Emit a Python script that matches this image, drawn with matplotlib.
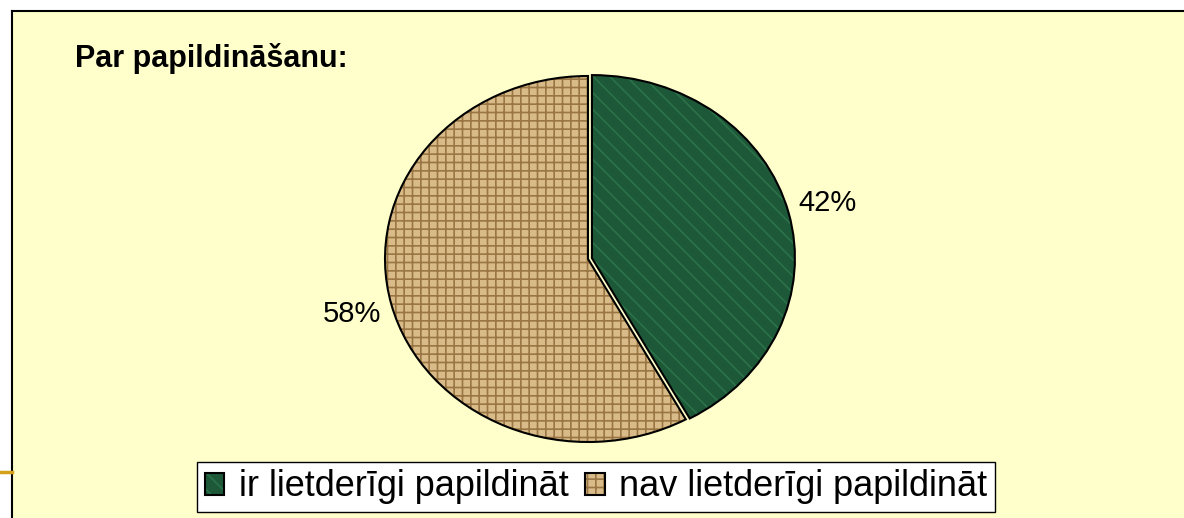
"""Pie: Par papildināšanu (ir / nav lietderīgi papildināt)."""

import matplotlib
matplotlib.use("Agg")
import matplotlib.pyplot as plt
from matplotlib.patches import Wedge, Rectangle
from matplotlib.lines import Line2D

plt.rcParams["font.family"] = ["Liberation Sans", "DejaVu Sans"]
plt.rcParams["hatch.linewidth"] = 1.2

# data
categories = ["ir lietderīgi papildināt", "nav lietderīgi papildināt"]
shares = [42, 58]
title = "Par papildināšanu:"

# styling
face_colors = ["#1D5838", "#D8BB88"]
hatch_colors = ["#2C7249", "#9A7644"]
hatches = ["\\\\", "++"]
BG = "#FFFFCC"

W, H = 1184, 518
fig = plt.figure(figsize=(W / 100, H / 100), dpi=100, facecolor="white")

# slide panel + frame
fig.add_artist(Rectangle((12 / W, 0), 1 - 12 / W, 1 - 11 / H, transform=fig.transFigure,
                         facecolor=BG, edgecolor="none", zorder=0))
fig.add_artist(Line2D([12 / W, 1], [1 - 11 / H, 1 - 11 / H], transform=fig.transFigure,
                      color="black", lw=1.5))
fig.add_artist(Line2D([12 / W, 12 / W], [0, 1 - 11 / H], transform=fig.transFigure,
                      color="black", lw=1.5))
fig.add_artist(Line2D([0, 12 / W], [1 - 472 / H, 1 - 472 / H], transform=fig.transFigure,
                      color="#D4A017", lw=2.5))

fig.text(75 / W, 1 - 59 / H, title, fontsize=22, fontweight="bold", va="center", ha="left")

# pie axes sized to the (horizontally stretched) pie
cx, cy, rx, ry = 588, 259, 203, 183
ax = fig.add_axes([(cx - rx) / W, (H - cy - ry) / H, 2 * rx / W, 2 * ry / H])
ax.set_facecolor("none")

wedges, texts, autotexts = ax.pie(
    shares,
    colors=face_colors,
    startangle=90,
    counterclock=False,
    explode=[0.02, 0],
    autopct="%.0f%%",
    pctdistance=1.2,
    wedgeprops=dict(edgecolor="black", linewidth=1.5, zorder=3),
    textprops=dict(fontsize=21, color="black"),
)
ax.set_aspect("auto")
ax.set_xlim(-1, 1)
ax.set_ylim(-1, 1)
ax.axis("off")

fills = []
for w, fc, hc, ht in zip(wedges, face_colors, hatch_colors, hatches):
    f = Wedge(w.center, w.r, w.theta1, w.theta2, facecolor=fc, edgecolor=hc,
              hatch=ht, linewidth=0, zorder=2)
    ax.add_patch(f)
    f.set_clip_on(False)
    w.set_clip_on(False)
    w.set_facecolor("none")
    fills.append(f)

leg = fig.legend(
    [(f, w) for f, w in zip(fills, wedges)],
    categories,
    loc="center",
    bbox_to_anchor=(596 / W, 1 - 487 / H),
    ncol=2,
    fontsize=26,
    frameon=True,
    fancybox=False,
    framealpha=1,
    edgecolor="black",
    handlelength=0.55,
    handleheight=0.55,
    handletextpad=0.4,
    columnspacing=0.45,
    borderpad=0.22,
    borderaxespad=0,
)
leg.get_frame().set_linewidth(1.0)

fig.savefig("out.png", dpi=100, facecolor="white")
